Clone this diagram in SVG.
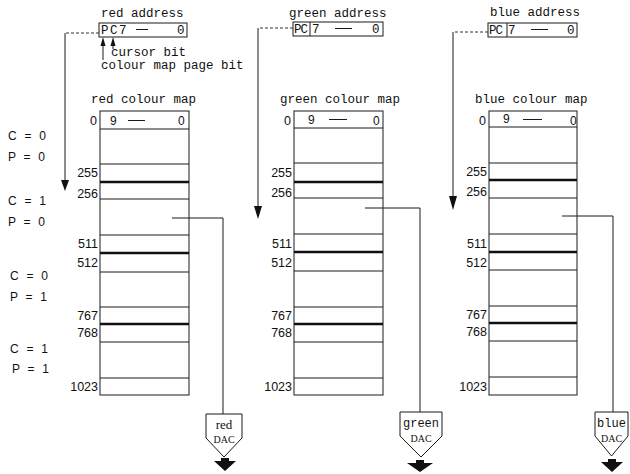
<svg xmlns="http://www.w3.org/2000/svg" width="630" height="474" viewBox="0 0 630 474">
<style>
.bx{fill:none;stroke:#1a1a1a;stroke-width:1}
.ln{stroke:#1a1a1a;stroke-width:1;fill:none}
.tk{stroke:#111;stroke-width:2.5}
.dash{stroke:#333;stroke-width:1;stroke-dasharray:3,2;fill:none}
.mono{font-family:"Liberation Mono","DejaVu Sans Mono",monospace;font-size:12.5px;fill:#111}
.sans{font-family:"Liberation Sans",Arial,sans-serif;font-size:12px;fill:#111}
.num{font-family:"Liberation Sans",Arial,sans-serif;font-size:12.5px;fill:#111;text-anchor:end}
.cp{font-family:"Liberation Sans",Arial,sans-serif;font-size:12px;fill:#111;letter-spacing:2.2px}
.ser{font-family:"Liberation Serif","Times New Roman",serif;font-size:13px;fill:#111;text-anchor:middle}
.dac{font-family:"Liberation Serif","Times New Roman",serif;font-size:10px;fill:#111;text-anchor:middle}
.dacm{font-family:"Liberation Mono",monospace;font-size:12px;fill:#111;text-anchor:middle}
.ah{fill:#111}
</style>

<!-- address boxes -->
<g id="red-address">
<text class="mono" x="101" y="17">red address</text>
<rect class="bx" x="99" y="23" width="88" height="14"/>
<text class="mono" x="101" y="34" font-size="12px">P</text>
<text class="mono" x="110" y="34" font-size="12px">C</text>
<text class="mono" x="119" y="34" font-size="12px">7</text>
<line class="ln" x1="136" y1="29.5" x2="148" y2="29.5"/>
<text class="mono" x="177" y="34" font-size="12px">0</text>
</g>
<g id="bit-labels">
<text class="mono" x="111" y="56" font-size="12px">cursor bit</text>
<text class="mono" x="101" y="69" font-size="12px">colour map page bit</text>
</g>
<g id="green-address">
<text class="mono" x="289" y="17">green address</text>
<rect class="bx" x="293" y="22" width="90" height="14"/>
<line class="ln" x1="310" y1="22" x2="310" y2="36"/>
<text class="mono" x="294" y="33" font-size="12px" letter-spacing="-1">PC</text>
<text class="mono" x="312" y="33" font-size="12px">7</text>
<line class="ln" x1="335" y1="28.5" x2="352" y2="28.5"/>
<text class="mono" x="372" y="33" font-size="12px">0</text>
</g>
<g id="blue-address">
<text class="mono" x="490" y="16">blue address</text>
<rect class="bx" x="488" y="23" width="89" height="14"/>
<line class="ln" x1="507" y1="23" x2="507" y2="37"/>
<text class="mono" x="489" y="34" font-size="12px" letter-spacing="-1">PC</text>
<text class="mono" x="508" y="34" font-size="12px">7</text>
<line class="ln" x1="531" y1="29.5" x2="548" y2="29.5"/>
<text class="mono" x="567" y="34" font-size="12px">0</text>
</g>

<!-- page labels -->
<g id="page-labels">
<text class="cp" x="8" y="140">C = 0</text>
<text class="cp" x="8" y="161">P = 0</text>
<text class="cp" x="8" y="205">C = 1</text>
<text class="cp" x="8" y="226">P = 0</text>
<text class="cp" x="10" y="280">C = 0</text>
<text class="cp" x="10" y="301">P = 1</text>
<text class="cp" x="10" y="353">C = 1</text>
<text class="cp" x="12" y="373">P = 1</text>
</g>

<!-- colour maps -->
<g id="red-map">
<text class="mono" x="91" y="103">red colour map</text>
<rect class="bx" x="100" y="111" width="89" height="284"/>
<line class="ln" x1="100" y1="129" x2="189" y2="129"/>
<line class="ln" x1="100" y1="164" x2="189" y2="164"/>
<line class="tk" x1="100" y1="182" x2="189" y2="182"/>
<line class="ln" x1="100" y1="199" x2="189" y2="199"/>
<line class="ln" x1="100" y1="235" x2="189" y2="235"/>
<line class="tk" x1="100" y1="253" x2="189" y2="253"/>
<line class="ln" x1="100" y1="272" x2="189" y2="272"/>
<line class="ln" x1="100" y1="307" x2="189" y2="307"/>
<line class="tk" x1="100" y1="324" x2="189" y2="324"/>
<line class="ln" x1="100" y1="342" x2="189" y2="342"/>
<line class="ln" x1="100" y1="378" x2="189" y2="378"/>
<text class="sans" x="110" y="125">9</text>
<line class="ln" x1="128" y1="120.5" x2="145" y2="120.5"/>
<text class="sans" x="178" y="125">0</text>
<text class="num" x="97" y="125">0</text>
<text class="num" x="98" y="177">255</text>
<text class="num" x="98" y="198">256</text>
<text class="num" x="98" y="248">511</text>
<text class="num" x="98" y="267">512</text>
<text class="num" x="98" y="320">767</text>
<text class="num" x="98" y="337">768</text>
<text class="num" x="98" y="391">1023</text>
</g>
<g id="green-map">
<text class="mono" x="280" y="103">green colour map</text>
<rect class="bx" x="294" y="111" width="89" height="284"/>
<line class="ln" x1="294" y1="128" x2="383" y2="128"/>
<line class="ln" x1="294" y1="163" x2="383" y2="163"/>
<line class="tk" x1="294" y1="182" x2="383" y2="182"/>
<line class="ln" x1="294" y1="198" x2="383" y2="198"/>
<line class="ln" x1="294" y1="234" x2="383" y2="234"/>
<line class="tk" x1="294" y1="252" x2="383" y2="252"/>
<line class="ln" x1="294" y1="271" x2="383" y2="271"/>
<line class="ln" x1="294" y1="307" x2="383" y2="307"/>
<line class="tk" x1="294" y1="324" x2="383" y2="324"/>
<line class="ln" x1="294" y1="342" x2="383" y2="342"/>
<line class="ln" x1="294" y1="378" x2="383" y2="378"/>
<text class="sans" x="308" y="124">9</text>
<line class="ln" x1="329" y1="119.5" x2="347" y2="119.5"/>
<text class="sans" x="373" y="125">0</text>
<text class="num" x="291" y="125">0</text>
<text class="num" x="292" y="177">255</text>
<text class="num" x="292" y="197">256</text>
<text class="num" x="292" y="248">511</text>
<text class="num" x="292" y="267">512</text>
<text class="num" x="292" y="320">767</text>
<text class="num" x="292" y="337">768</text>
<text class="num" x="292" y="391">1023</text>
</g>
<g id="blue-map">
<text class="mono" x="475" y="103">blue colour map</text>
<rect class="bx" x="489" y="111" width="88" height="284"/>
<line class="ln" x1="489" y1="127" x2="577" y2="127"/>
<line class="ln" x1="489" y1="163" x2="577" y2="163"/>
<line class="tk" x1="489" y1="180" x2="577" y2="180"/>
<line class="ln" x1="489" y1="198" x2="577" y2="198"/>
<line class="ln" x1="489" y1="234" x2="577" y2="234"/>
<line class="tk" x1="489" y1="252" x2="577" y2="252"/>
<line class="ln" x1="489" y1="270" x2="577" y2="270"/>
<line class="ln" x1="489" y1="306" x2="577" y2="306"/>
<line class="tk" x1="489" y1="323" x2="577" y2="323"/>
<line class="ln" x1="489" y1="341" x2="577" y2="341"/>
<line class="ln" x1="489" y1="377" x2="577" y2="377"/>
<text class="sans" x="503" y="123">9</text>
<line class="ln" x1="523" y1="119.5" x2="542" y2="119.5"/>
<text class="sans" x="570" y="125">0</text>
<text class="num" x="486" y="125">0</text>
<text class="num" x="487" y="176">255</text>
<text class="num" x="487" y="196">256</text>
<text class="num" x="487" y="248">511</text>
<text class="num" x="487" y="267">512</text>
<text class="num" x="487" y="319">767</text>
<text class="num" x="487" y="336">768</text>
<text class="num" x="487" y="391">1023</text>
</g>

<!-- DACs -->
<g id="red-dac">
<path class="bx" d="M206,414 L242,414 L242,438 L224,457 L206,438 Z"/>
<text class="ser" x="224" y="429">red</text>
<text class="dac" x="224" y="443">DAC</text>
<path class="ah" d="M221,458 L229,458 L229,461 L236,461 L225,471 L214,461 L221,461 Z"/>
</g>
<g id="green-dac">
<path class="bx" d="M400,412 L442,412 L442,436 L421,457 L400,436 Z"/>
<text class="dacm" x="421" y="427">green</text>
<text class="dac" x="421" y="442">DAC</text>
<path class="ah" d="M416,460 L424,460 L424,463 L433,463 L420,472 L407,463 L416,463 Z"/>
</g>
<g id="blue-dac">
<path class="bx" d="M595,412 L628,412 L628,436 L611.5,456 L595,436 Z"/>
<text class="dacm" x="611.5" y="427">blue</text>
<text class="dac" x="611.5" y="442">DAC</text>
<path class="ah" d="M608,459 L616,459 L616,462 L623,462 L612,472 L601,462 L608,462 Z"/>
</g>

<!-- connectors -->
<g id="connectors">
<polyline class="dash" points="99,33 65,33"/>
<line class="ln" x1="65" y1="33" x2="65" y2="182"/>
<path class="ah" d="M61,180 L69,180 L65,191 Z"/>
<polyline class="dash" points="293,28 258,28"/>
<line class="ln" x1="258" y1="28" x2="258" y2="208"/>
<path class="ah" d="M254,206 L262,206 L258,219 Z"/>
<polyline class="dash" points="488,32 453,32"/>
<line class="ln" x1="453" y1="32" x2="453" y2="198"/>
<path class="ah" d="M449,196 L457,196 L453,210 Z"/>
<line class="ln" x1="103" y1="42" x2="103" y2="60"/>
<path class="ah" d="M100.5,46 L105.5,46 L103,37 Z"/>
<line class="ln" x1="113" y1="42" x2="113" y2="49"/>
<path class="ah" d="M110.5,46 L115.5,46 L113,37 Z"/>
<polyline class="ln" points="172,218 223,218 223,414"/>
<polyline class="ln" points="365,208 420,208 420,412"/>
<polyline class="ln" points="562,216 613,216 613,412"/>
</g>
</svg>
